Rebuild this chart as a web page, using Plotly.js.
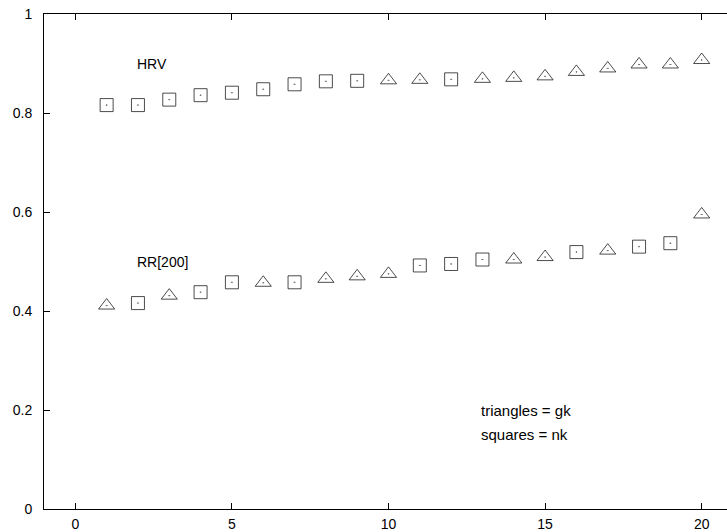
<!DOCTYPE html>
<html><head><meta charset="utf-8">
<script src="https://cdn.plot.ly/plotly-3.0.1.min.js"></script>
<style>html,body{margin:0;padding:0;overflow:hidden;background:#fff;width:727px;height:532px}</style>
</head><body><div id="chart" style="width:760px;height:532px"></div>
<script>
// x positions
const xs = [1,2,3,4,5,6,7,8,9,10,11,12,13,14,15,16,17,18,19,20];
// HRV series values and method (gk = triangle, nk = square)
const hrvValues = [0.816,0.816,0.827,0.836,0.841,0.848,0.858,0.864,0.865,0.866,0.867,0.868,0.869,0.871,0.874,0.883,0.890,0.898,0.898,0.907];
const hrvMethod = ['nk','nk','nk','nk','nk','nk','nk','nk','nk','gk','gk','nk','gk','gk','gk','gk','gk','gk','gk','gk'];
// RR[200] series
const rrValues = [0.411,0.416,0.431,0.438,0.458,0.457,0.458,0.465,0.470,0.475,0.492,0.495,0.504,0.504,0.509,0.519,0.522,0.530,0.537,0.595];
const rrMethod = ['gk','nk','gk','nk','nk','gk','nk','gk','gk','gk','nk','nk','nk','gk','gk','nk','gk','nk','nk','gk'];
// labels
const seriesLabels = ['HRV','RR[200]'];
const noteLines = ['triangles = gk','squares = nk'];
const xTicks = [0,5,10,15,20];
const yTicks = [0,0.2,0.4,0.6,0.8,1];

const symbolFor = {gk:'triangle-up-open-dot', nk:'square-open-dot'};
const sizeFor = {gk:14, nk:13};
function trace(vals, methods){
  return {
    x: xs, y: vals, type:'scatter', mode:'markers', showlegend:false,
    marker:{symbol: methods.map(m=>symbolFor[m]), size: methods.map(m=>sizeFor[m]), color:'#000',
            line:{color:'#000', width:1}}
  };
}
const font = {family:'"Liberation Sans", Arial, Helvetica, sans-serif', size:14, color:'#000'};
const noteFont = Object.assign({}, font, {size:15});
const axisCommon = {
  showgrid:false, zeroline:false, showline:true, linecolor:'#000', linewidth:1,
  mirror:'ticks', ticks:'inside', ticklen:6, tickwidth:1, tickcolor:'#000',
  tickfont: font
};
const layout = {
  width:760, height:532,
  margin:{l:44, r:27, t:14, b:23, pad:0},
  paper_bgcolor:'#fff', plot_bgcolor:'#fff',
  font: font,
  xaxis: Object.assign({}, axisCommon, {range:[-1,21], tickvals:xTicks, ticktext:xTicks.map(String), ticklabelstandoff:2}),
  yaxis: Object.assign({}, axisCommon, {range:[0,1], tickvals:yTicks, ticktext:yTicks.map(String), ticklabelstandoff:8}),
  annotations: [
    {x:2, y:0.9, text:seriesLabels[0], font:font},
    {x:2, y:0.5, text:seriesLabels[1], font:font},
    {x:13, y:0.2, text:noteLines[0], font:noteFont},
    {x:13, y:0.15, text:noteLines[1], font:noteFont}
  ].map(a=>Object.assign({xref:'x', yref:'y', showarrow:false, xanchor:'left', yanchor:'middle', xshift:-3}, a))
};
Plotly.newPlot('chart', [trace(hrvValues, hrvMethod), trace(rrValues, rrMethod)], layout, {staticPlot:true, displayModeBar:false});
</script>
</body></html>
